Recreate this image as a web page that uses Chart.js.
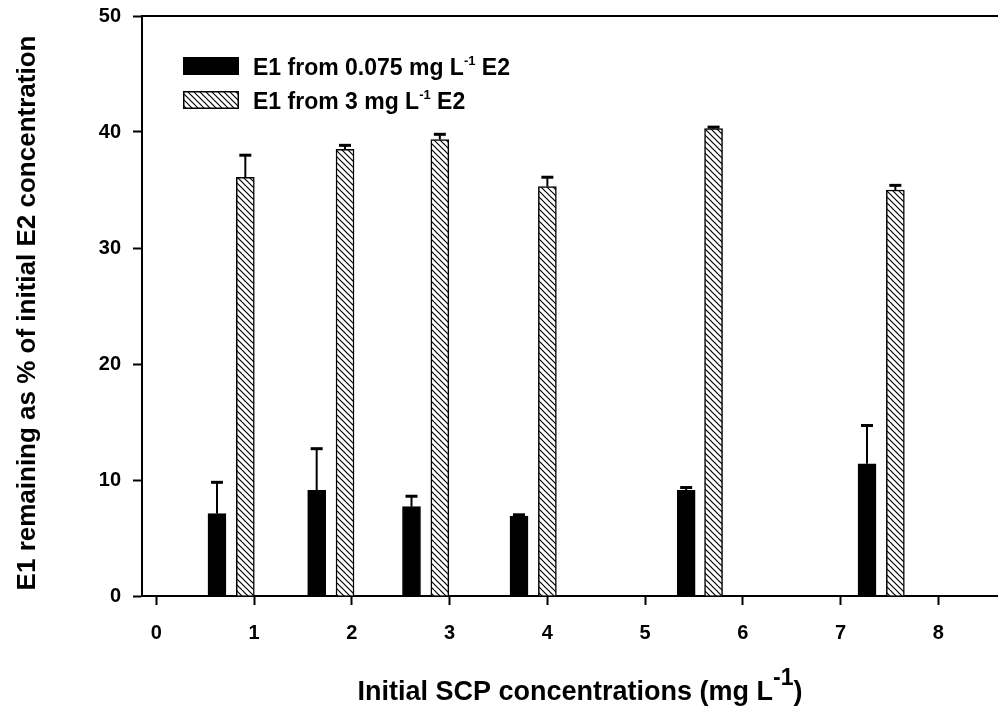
<!DOCTYPE html>
<html>
<head>
<meta charset="utf-8">
<script src="https://cdn.jsdelivr.net/npm/chart.js@4/dist/chart.umd.min.js"></script>
<style>
    body { margin: 0; background: #fff; }
    #wrap { width: 998px; height: 715px; position: relative; }
</style>
</head>
<body>
<div id="wrap"><canvas id="chart"></canvas></div>
<script>
// data
const xTicks = [0, 1, 2, 3, 4, 5, 6, 7, 8];
const yTicks = [0, 10, 20, 30, 40, 50];

const lowX = [0.62, 1.64, 2.61, 3.71, 5.42, 7.27];
const lowY = [7.1, 9.1, 7.7, 6.9, 9.1, 11.4];
const lowErr = [2.7, 3.6, 0.9, 0.1, 0.25, 3.3];

const highX = [0.91, 1.93, 2.90, 4.00, 5.70, 7.56];
const highY = [36.1, 38.5, 39.35, 35.3, 40.3, 35.0];
const highErr = [1.9, 0.35, 0.45, 0.8, 0.12, 0.4];

const FONT = "'Liberation Sans', Arial, sans-serif";

// diagonal hatch ( \\\ ) fill
function makeHatch() {
    const c = document.createElement('canvas');
    c.width = 6;
    c.height = 6;
    const g = c.getContext('2d');
    g.fillStyle = '#fff';
    g.fillRect(0, 0, 6, 6);
    g.strokeStyle = '#000';
    g.lineWidth = 1.2;
    g.beginPath();
    g.moveTo(0, 0); g.lineTo(6, 6);
    g.moveTo(-1, 5); g.lineTo(1, 7);
    g.moveTo(5, -1); g.lineTo(7, 1);
    g.stroke();
    return g.createPattern(c, 'repeat');
}
const hatch = makeHatch();

// draws text with a "-1" superscript inside it
function drawSupText(ctx, parts, x, y, size, supSize, rise, align) {
    const widths = parts.map(p => {
        ctx.font = 'bold ' + (p.sup ? supSize : size) + 'px ' + FONT;
        return ctx.measureText(p.t).width;
    });
    const total = widths.reduce((a, b) => a + b, 0);
    let cx = align === 'center' ? x - total / 2 : x;
    ctx.textAlign = 'left';
    ctx.textBaseline = 'alphabetic';
    parts.forEach((p, i) => {
        ctx.font = 'bold ' + (p.sup ? supSize : size) + 'px ' + FONT;
        ctx.fillText(p.t, cx, p.sup ? y - rise : y);
        cx += widths[i];
    });
}

const errorBars = {
    id: 'errorBars',
    afterDatasetsDraw(chart) {
        const ctx = chart.ctx;
        const yScale = chart.scales.y;
        chart.data.datasets.forEach((ds, di) => {
            const meta = chart.getDatasetMeta(di);
            meta.data.forEach((bar, i) => {
                const top = yScale.getPixelForValue(ds.data[i].y + ds.errors[i]);
                ctx.save();
                ctx.strokeStyle = '#000';
                ctx.lineWidth = 2;
                ctx.beginPath();
                ctx.moveTo(bar.x, bar.y);
                ctx.lineTo(bar.x, top);
                ctx.stroke();
                ctx.lineWidth = 3;
                ctx.beginPath();
                ctx.moveTo(bar.x - 6, top);
                ctx.lineTo(bar.x + 6, top);
                ctx.stroke();
                ctx.restore();
            });
        });
    }
};

const decorations = {
    id: 'decorations',
    afterDraw(chart) {
        const ctx = chart.ctx;
        const area = chart.chartArea;
        ctx.save();
        ctx.fillStyle = '#000';
        ctx.strokeStyle = '#000';

        // top frame line
        ctx.lineWidth = 2;
        ctx.beginPath();
        ctx.moveTo(area.left, area.top);
        ctx.lineTo(area.right, area.top);
        ctx.stroke();

        // legend
        ctx.fillRect(183, 57, 56, 18);
        ctx.fillStyle = hatch;
        ctx.fillRect(183, 91, 56, 18);
        ctx.lineWidth = 1.5;
        ctx.strokeRect(183.75, 91.75, 54.5, 16.5);
        ctx.fillStyle = '#000';
        drawSupText(ctx, [{t: 'E1 from 0.075 mg L'}, {t: '-1', sup: true}, {t: ' E2'}], 253, 75, 23, 13, 10, 'left');
        drawSupText(ctx, [{t: 'E1 from 3 mg L'}, {t: '-1', sup: true}, {t: ' E2'}], 253, 109, 23, 13, 10, 'left');

        // axis titles
        drawSupText(ctx, [{t: 'Initial SCP concentrations (mg L'}, {t: '-1', sup: true}, {t: ')'}], 580, 700, 27, 23, 15, 'center');

        ctx.translate(28, 313);
        ctx.rotate(-Math.PI / 2);
        ctx.font = 'bold 26px ' + FONT;
        ctx.textAlign = 'center';
        ctx.textBaseline = 'middle';
        ctx.fillText('E1 remaining as % of initial E2 concentration', 0, 0);
        ctx.restore();
    }
};

const chart = new Chart(document.getElementById('chart'), {
    type: 'bar',
    data: {
        datasets: [{
            label: 'E1 from 0.075 mg L-1 E2',
            data: lowX.map((x, i) => ({x: x, y: lowY[i]})),
            errors: lowErr,
            backgroundColor: '#000',
            borderColor: '#000',
            borderWidth: 1
        }, {
            label: 'E1 from 3 mg L-1 E2',
            data: highX.map((x, i) => ({x: x, y: highY[i]})),
            errors: highErr,
            backgroundColor: hatch,
            borderColor: '#000',
            borderWidth: 1.5
        }]
    },
    options: {
        responsive: true,
        maintainAspectRatio: false,
        animation: false,
        grouped: false,
        barThickness: 18,
        layout: { padding: { top: 16, right: 0, left: 0, bottom: 0 } },
        plugins: {
            legend: { display: false },
            tooltip: { enabled: false }
        },
        scales: {
            x: {
                type: 'linear',
                offset: false,
                min: -0.147,
                max: 8.61,
                afterBuildTicks: axis => { axis.ticks = xTicks.map(v => ({value: v})); },
                afterFit: axis => {
                    axis.height = 119;
                    axis.paddingLeft = 0;
                    axis.paddingRight = 0;
                },
                grid: { offset: false, drawOnChartArea: false, drawTicks: true, tickLength: 9, tickWidth: 2, color: '#000' },
                border: { display: true, color: '#000', width: 2 },
                ticks: { color: '#000', padding: 16, maxRotation: 0, font: { family: FONT, size: 20, weight: 'bold' } }
            },
            y: {
                min: 0,
                max: 50,
                afterBuildTicks: axis => { axis.ticks = yTicks.map(v => ({value: v})); },
                afterFit: axis => {
                    axis.width = 142;
                    axis.paddingTop = 0;
                    axis.paddingBottom = 0;
                },
                grid: { drawOnChartArea: false, drawTicks: true, tickLength: 9, tickWidth: 2, color: '#000' },
                border: { display: true, color: '#000', width: 2 },
                ticks: { color: '#000', padding: 12, font: { family: FONT, size: 20, weight: 'bold' } }
            }
        }
    },
    plugins: [errorBars, decorations]
});
</script>
</body>
</html>
